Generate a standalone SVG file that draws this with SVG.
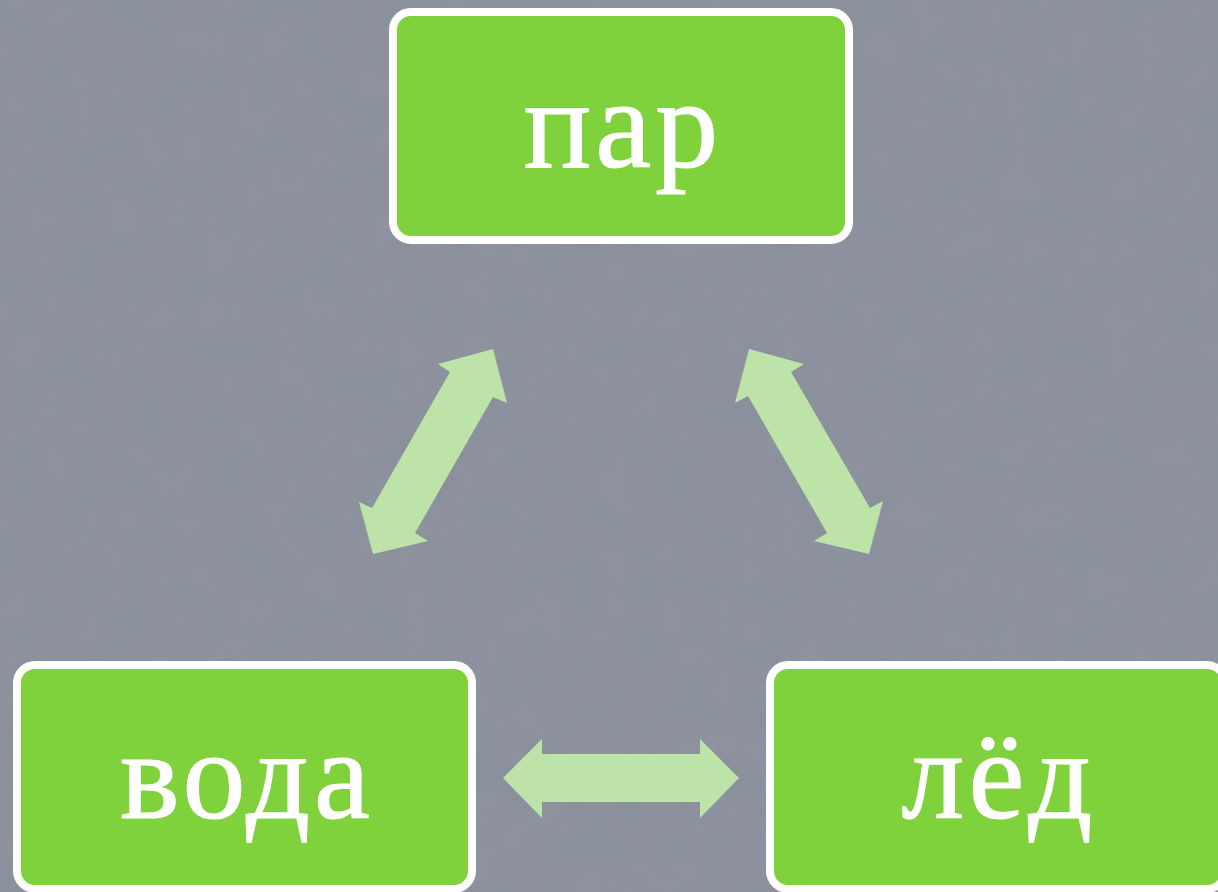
<svg xmlns="http://www.w3.org/2000/svg" width="1218" height="892" viewBox="0 0 1218 892">
  <defs>
    <filter id="tex" x="0" y="0" width="100%" height="100%">
      <feTurbulence type="fractalNoise" baseFrequency="0.03" numOctaves="4" seed="7" result="n"/>
      <feColorMatrix in="n" type="matrix" values="0 0 0 0 0.42  0 0 0 0 0.44  0 0 0 0 0.49  0 0 0 0.5 -0.15"/>
    </filter>
  </defs>
  <style>
    .box { fill: #80d23c; stroke: #ffffff; stroke-width: 8; }
    .label { font-family: "Liberation Serif", "DejaVu Serif", serif; font-size: 126px; fill: #ffffff; stroke: #ffffff; stroke-width: 1.2; text-anchor: middle; letter-spacing: 4px; }
    .arrow { fill: #bde3a9; }
  </style>
  <rect x="0" y="0" width="1218" height="892" fill="#8a909c"/>
  <rect x="0" y="0" width="1218" height="892" filter="url(#tex)" opacity="0.45"/>

  <g id="connectors">
    <polygon class="arrow" points="493,349 507,403 493,397 415,533 428,541 373,554 359,502 372,508 450,372 438,364"/>
    <polygon class="arrow" points="749,349 804,364 791,372 870,508 883,501 869,554 814,541 827,533 748,396 735,403"/>
    <polygon class="arrow" points="503,778 542,739 542,754 700,754 700,739 739,778 700,818 700,802 542,802 542,818"/>
  </g>

  <g id="node-par">
    <rect class="box" x="393" y="12" width="456" height="228" rx="18"/>
    <text class="label" x="623" y="167">пар</text>
  </g>
  <g id="node-voda">
    <rect class="box" x="17" y="665" width="455" height="224" rx="18"/>
    <text class="label" x="247" y="818">вода</text>
  </g>
  <g id="node-led">
    <rect class="box" x="770" y="665" width="455" height="224" rx="18"/>
    <text class="label" x="999" y="818">лёд</text>
  </g>
</svg>
